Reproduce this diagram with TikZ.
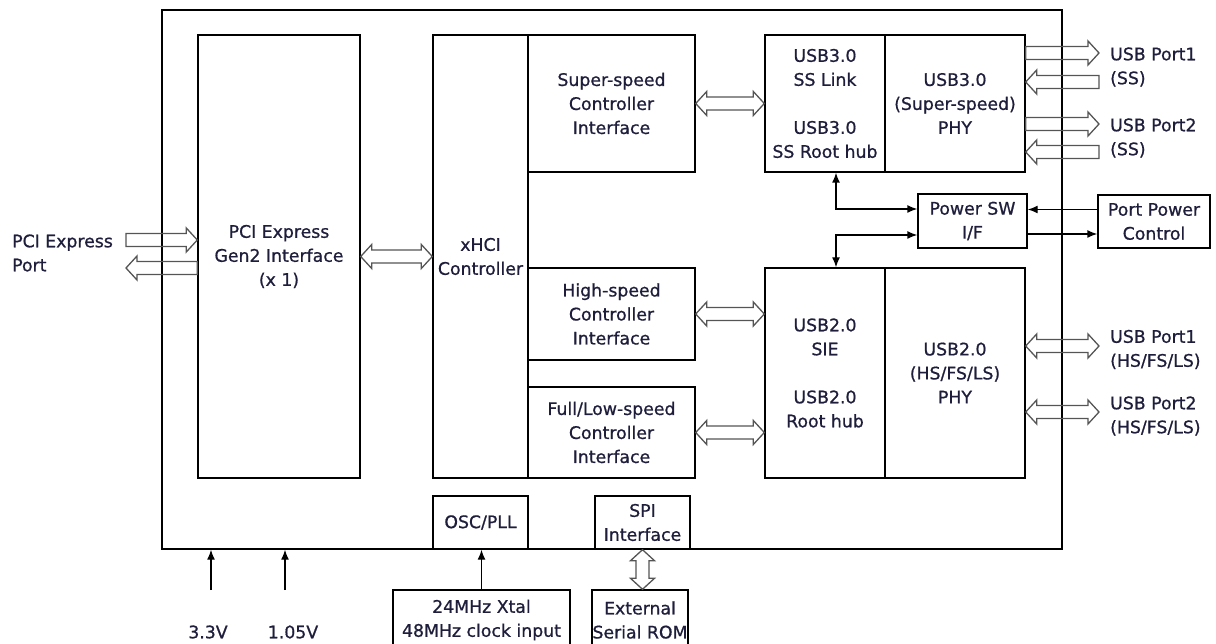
\documentclass[tikz,border=0pt]{standalone}
\usepackage{fontspec}
\setmainfont[FakeBold=0.8]{DejaVu Sans}
\usetikzlibrary{arrows.meta,calc}
\definecolor{txt}{RGB}{30,30,60}
\definecolor{agray}{RGB}{85,85,85}
\begin{document}
\begin{tikzpicture}[x=1pt,y=-1pt,
  font=\fontsize{17.3}{24}\selectfont,
  blk/.style={draw=black, line width=1.4pt, inner sep=0pt, align=center, text=txt},
  lbl/.style={inner sep=0pt, align=left, text=txt},
  conn/.style={draw=black, line width=1.4pt},
  tip/.style={-{Latex[length=10pt,width=8pt]}},
  dtip/.style={{Latex[length=10pt,width=8pt]}-{Latex[length=10pt,width=8pt]}},
  sharr/.style={draw=agray, line width=1.3pt, to path={let \p1=(\tikztostart), \p2=(\tikztotarget), \p3=($(\tikztotarget)!11pt!(\tikztostart)$) in
    (\x1,\y1+6.5pt) -- (\x3,\y1+6.5pt) -- (\x3,\y1+12pt) -- (\x2,\y1) -- (\x3,\y1-12pt) -- (\x3,\y1-6.5pt) -- (\x1,\y1-6.5pt) -- cycle}},
  dharr/.style={draw=agray, line width=1.3pt, to path={let \p1=(\tikztostart), \p2=(\tikztotarget), \p3=($(\tikztostart)!11pt!(\tikztotarget)$), \p4=($(\tikztotarget)!11pt!(\tikztostart)$) in
    (\x1,\y1) -- (\x3,\y1+12pt) -- (\x3,\y1+6.5pt) -- (\x4,\y1+6.5pt) -- (\x4,\y1+12pt) -- (\x2,\y1) -- (\x4,\y1-12pt) -- (\x4,\y1-6.5pt) -- (\x3,\y1-6.5pt) -- (\x3,\y1-12pt) -- cycle}},
  dvarr/.style={draw=agray, line width=1.3pt, to path={let \p1=(\tikztostart), \p2=(\tikztotarget), \p3=($(\tikztostart)!11pt!(\tikztotarget)$), \p4=($(\tikztotarget)!11pt!(\tikztostart)$) in
    (\x1,\y1) -- (\x1+12pt,\y3) -- (\x1+6.5pt,\y3) -- (\x1+6.5pt,\y4) -- (\x1+12pt,\y4) -- (\x1,\y2) -- (\x1-12pt,\y4) -- (\x1-6.5pt,\y4) -- (\x1-6.5pt,\y3) -- (\x1-12pt,\y3) -- cycle}}
]
\useasboundingbox (0,0) rectangle (1216,644);

% chip outline
\node[blk, minimum width=900, minimum height=539] (chip) at (612,279.5) {};

% internal blocks
\node[blk, minimum width=162, minimum height=443] (pci) at (279,256.5) {PCI Express\\Gen2 Interface\\(x 1)};
\node[blk, minimum width=95, minimum height=443] (xhci) at (480.5,256.5) {xHCI\\Controller};
\node[blk, minimum width=167, minimum height=137] (ss) at (611.5,103.5) {Super-speed\\Controller\\Interface};
\node[blk, minimum width=167, minimum height=92] (hs) at (611.5,314) {High-speed\\Controller\\Interface};
\node[blk, minimum width=167, minimum height=91] (fl) at (611.5,432.5) {Full/Low-speed\\Controller\\Interface};
\node[blk, minimum width=120, minimum height=137] (link3) at (825,103.5) {USB3.0\\SS Link\\[24pt]USB3.0\\SS Root hub};
\node[blk, minimum width=140, minimum height=137] (phy3) at (955,103.5) {USB3.0\\(Super-speed)\\PHY};
\node[blk, minimum width=120, minimum height=210] (sie) at (825,373) {USB2.0\\SIE\\[24pt]USB2.0\\Root hub};
\node[blk, minimum width=140, minimum height=210] (phy2) at (955,373) {USB2.0\\(HS/FS/LS)\\PHY};
\node[blk, minimum width=109, minimum height=54] (psw) at (972.5,221) {Power SW\\I/F};
\node[blk, minimum width=112, minimum height=53] (ppc) at (1154,221.5) {Port Power\\Control};
\node[blk, minimum width=95, minimum height=53] (osc) at (480.5,522.5) {OSC/PLL};
\node[blk, minimum width=95, minimum height=53] (spi) at (642.5,522.5) {SPI\\Interface};

% external blocks
\node[blk, minimum width=177, minimum height=60] (xtal) at (481.5,620) {24MHz Xtal\\48MHz clock input};
\node[blk, minimum width=96, minimum height=60] (rom) at (640,620) {External\\Serial ROM};

% labels
\node[lbl, anchor=west] (pcil) at (12,253) {PCI Express\\Port};
\node[lbl, anchor=west] (ss1l) at (1110,67) {USB Port1\\(SS)};
\node[lbl, anchor=west] (ss2l) at (1110,138) {USB Port2\\(SS)};
\node[lbl, anchor=west] (hs1l) at (1110,349.5) {USB Port1\\(HS/FS/LS)};
\node[lbl, anchor=west] (hs2l) at (1110,416) {USB Port2\\(HS/FS/LS)};
\node[lbl] (v33l) at (208,632) {3.3V};
\node[lbl] (v105l) at (293,632) {1.05V};

\coordinate (pciport) at (126,254);
\coordinate (pe) at (1099,0);
\coordinate (v33) at (211,590);
\coordinate (v105) at (285,590);

% hollow bus arrows
\draw[sharr] (pciport |- 0,240) to (pci.west |- 0,240);
\draw[sharr] (pci.west |- 0,268) to (pciport |- 0,268);
\draw[dharr] (pci.east) to (xhci.west);
\draw[dharr] (ss.east) to (link3.west);
\draw[dharr] (hs.east) to (sie.west |- hs.east);
\draw[dharr] (fl.east) to (sie.west |- fl.east);
\draw[sharr] (phy3.east |- 0,53) to (pe |- 0,53);
\draw[sharr] (pe |- 0,82) to (phy3.east |- 0,82);
\draw[sharr] (phy3.east |- 0,124) to (pe |- 0,124);
\draw[sharr] (pe |- 0,152) to (phy3.east |- 0,152);
\draw[dharr] (phy2.east |- 0,346) to (pe |- 0,346);
\draw[dharr] (phy2.east |- 0,412) to (pe |- 0,412);
\draw[dvarr] (spi.south) to (spi.south |- rom.north);

% control lines
\draw[conn, dtip] ([xshift=11pt]link3.south) |- ([yshift=12pt]psw.west);
\draw[conn, dtip] ([xshift=11pt]sie.north) |- ([yshift=-14pt]psw.west);
\draw[conn, tip] ([yshift=12pt]ppc.west) -- ([yshift=12pt]ppc.west -| psw.east);
\draw[conn, tip] ([yshift=-13pt]psw.east) -- ([yshift=-13pt]psw.east -| ppc.west);
\draw[conn, tip] (xtal.north) -- (xtal.north |- osc.south);
\draw[conn, tip] (v33) -- (v33 |- chip.south);
\draw[conn, tip] (v105) -- (v105 |- chip.south);
\end{tikzpicture}
\end{document}
